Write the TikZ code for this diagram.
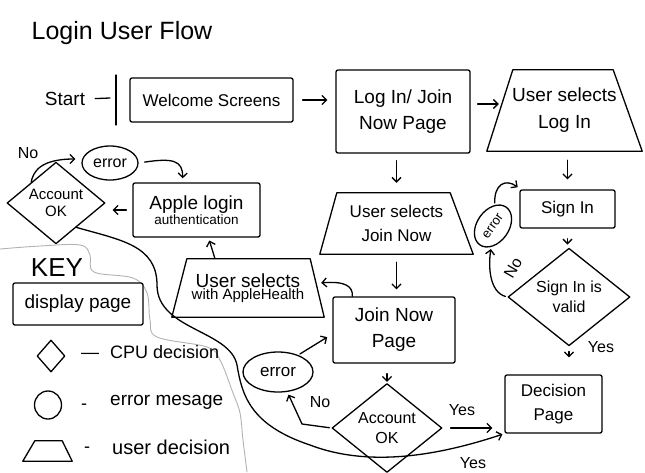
\documentclass[tikz,border=0pt]{standalone}
\usepackage{fontspec}
\setmainfont{Liberation Sans}
\usetikzlibrary{shapes.geometric,arrows.meta,calc}
\newcommand\hsz[2]{\fontsize{#1}{#2}\selectfont}
\newcommand\trapdraw[3]{\draw[ln] (#1.south west) -- ($(#1.north west)+(#2,0)$) -- ($(#1.north east)+(-#3,0)$) -- (#1.south east) -- cycle;}
\begin{document}
\begin{tikzpicture}[x=1pt,y=-1pt, line join=round, line cap=round,
 every node/.style={inner sep=0pt, align=center},
 ln/.style={line width=1.3pt},
 box/.style={draw, ln, rounded corners=2pt},
 dia/.style={draw, ln, diamond},
 err/.style={draw, ln, ellipse},
 arr/.style={ln, -{Straight Barb[length=4.5pt,width=9pt]}, shorten <=4pt, shorten >=4pt},
 lbl/.style={font=\hsz{16}{18}}]
\useasboundingbox (0,0) rectangle (645,472);

% title
\node[font=\hsz{25}{30}] (title) at (122,33) {Login User Flow};

% start
\node[font=\hsz{19}{22}] (start) at (65,99) {Start};
\coordinate (bar) at (110,98);
\coordinate (barTop) at (116,75);
\coordinate (barBot) at (116,125);
\draw[ln, shorten <=10pt] (start.east) -- (bar);
\draw[ln] (barTop) -- (barBot);

% top row
\node[box, minimum width=163pt, minimum height=44pt, font=\hsz{17}{20}] (welcome) at (211.5,100) {Welcome Screens};
\node[box, minimum width=134pt, minimum height=83pt, font=\hsz{19}{26}] (logjoin) at (403,111.5) {Log In/ Join\\Now Page};
\node[minimum width=155pt, minimum height=81pt, font=\hsz{19}{27}] (sellogin) at (564.5,110.5) {User selects\\Log In};
\trapdraw{sellogin}{26}{29}
\draw[arr, shorten <=9pt, shorten >=8pt] (welcome.east) -- (logjoin.west |- welcome.east);
\draw[arr, shorten <=7pt, shorten >=3pt] ($(logjoin.east)+(0,-7.5)$) -- ($(sellogin.west)+(15,-6.5)$);

% middle column
\node[minimum width=153pt, minimum height=61pt, font=\hsz{17}{24}] (seljoin) at (396.5,223.5) {User selects\\Join Now};
\trapdraw{seljoin}{17}{23}
\draw[arr, shorten <=7pt, shorten >=10pt] (logjoin.south -| seljoin.north) -- (seljoin.north);
\node[box, minimum width=122pt, minimum height=66pt, font=\hsz{19}{26}] (joinpage) at (394,330) {Join Now\\Page};
\draw[arr, shorten <=8pt, shorten >=7pt] (seljoin.south) -- (seljoin.south |- joinpage.north);
\node[dia, minimum width=110pt, minimum height=70pt, font=\hsz{16}{20}] (acc2) at (387,428) {Account\\OK};
\draw[arr, shorten <=10pt, shorten >=1pt] (acc2.north |- joinpage.south) -- (acc2.north);
\node[box, minimum width=97pt, minimum height=58pt, font=\hsz{17}{24}] (decision) at (553.5,404) {Decision\\Page};
\draw[arr, shorten <=8pt, shorten >=12pt] (acc2.east) -- (acc2.east -| decision.west);
\node[lbl] (yes2) at (462,410) {Yes};

\node[err, minimum width=70pt, minimum height=40pt, font=\hsz{17}{20}] (err2) at (278,372) {error};
\draw[arr, shorten <=2pt, shorten >=6pt] (err2.40) -- ($(joinpage.west)+(0,4)$);
\coordinate (nob) at (302,424);
\draw[arr, shorten <=2pt, shorten >=3pt] (acc2.west) -- (nob) -- (err2.-65);
\node[lbl] (no2) at (320,402) {No};

% right column
\node[box, minimum width=95pt, minimum height=38pt, font=\hsz{17}{20}] (signin) at (567.5,209) {Sign In};
\draw[arr, shorten <=9pt, shorten >=10pt] (signin.north |- sellogin.south) -- (signin.north);
\node[dia, minimum width=122pt, minimum height=75pt, font=\hsz{16}{20}] (valid) at (569,297) {Sign In is\\valid};
\draw[arr, shorten <=10pt, shorten >=3pt] (signin.south) -- (signin.south |- valid.north);
\node[err, rotate=55, minimum width=46pt, minimum height=32pt, font=\hsz{13}{15}] (err3) at (493,226) {error};
\draw[arr, shorten <=2pt, shorten >=2pt] (err3.30) .. controls (494,185) and (505,178) .. ($(signin.north west)+(0,-1)$);
\draw[arr, shorten <=2pt, shorten >=2pt] (valid.west) .. controls (490,292) and (488,268) .. (err3.-150);
\node[lbl, rotate=60] (no3) at (513,268) {No};
\draw[arr, shorten <=5pt, shorten >=17pt] (valid.south) -- (valid.south |- decision.north);
\node[lbl] (yes3) at (601,347) {Yes};

% left column
\node[box, minimum width=127pt, minimum height=54pt] (apple) at (196.5,210) {{\hsz{19}{22}Apple login}\\{\hsz{13.5}{16}authentication}};
\node[minimum width=152pt, minimum height=58pt] (applesel) at (248,288) {{\hsz{19}{22}User selects}\\{\hsz{15}{18}with AppleHealth}};
\trapdraw{applesel}{15}{14}
\draw[arr, shorten <=1pt, shorten >=3pt] ($(applesel.north)+(-33,0)$) -- ($(apple.south)+(12,0)$);
\draw[arr, shorten <=0pt, shorten >=2pt] ($(joinpage.north west)+(20,0)$) .. controls (353,286) and (345,281) .. ($(applesel.east)+(-5,-5)$);

\node[err, minimum width=56pt, minimum height=34pt, font=\hsz{16}{18}] (err1) at (110,163) {error};
\node[dia, minimum width=98pt, minimum height=54pt, font=\hsz{15}{17}] (acc1) at (56,203) {Account\\OK};
\draw[arr, shorten <=0pt, shorten >=6pt] (acc1.north west) .. controls (33,172) and (40,159) .. ($(err1.west)+(0,-4)$);
\node[lbl] (no1) at (28,153) {No};
\draw[arr, shorten <=6pt, shorten >=4pt] (err1.east) .. controls (172,158) and (183,160) .. ($(apple.north)+(-14,0)$);
\draw[arr, shorten <=6pt, shorten >=7pt] (apple.west) -- (apple.west -| acc1.east);

% long yes path
\draw[arr, shorten <=0pt, shorten >=2pt] (acc1.-50) .. controls (120,240) and (157,245) .. (157,285) .. controls (157,330) and (230,330) .. (237,365) .. controls (242,395) and (250,425) .. (310,445) .. controls (370,468) and (440,455) .. (decision.south west);
\node[lbl] (yes1) at (473,463) {Yes};

% key boundary
\draw[gray!60, line width=0.9pt] plot[smooth, tension=0.6] coordinates {(0,249) (40,246) (80,245) (90,255) (94,272) (133,278) (147,293) (150,320) (157,337) (207,347) (220,360) (233,393) (240,413) (243,440) (247,472)};

% key
\node[font=\hsz{26}{30}] (keyt) at (57,268) {KEY};
\node[box, minimum width=130pt, minimum height=42pt, font=\hsz{19}{22}] (keypage) at (78,304) {display page};
\node[dia, minimum width=28pt, minimum height=32pt] (keydia) at (51,356) {};
\node[font=\hsz{18}{20}] (keydash1) at (90,356) {—};
\node[font=\hsz{18}{20}, anchor=west] (keycpu) at (110,352) {CPU decision};
\node[err, minimum width=27pt, minimum height=28pt] (keyerr) at (48,405) {};
\node[font=\hsz{18}{20}] (keydash2) at (84,407) {-};
\node[font=\hsz{19}{22}, anchor=west] (keyerrt) at (110,402) {error mesage};
\node[minimum width=49pt, minimum height=20pt] (keytrap) at (47.5,451) {};
\trapdraw{keytrap}{12}{10}
\node[font=\hsz{18}{20}] (keydash3) at (87,450) {-};
\node[font=\hsz{20}{22}, anchor=west] (keyuser) at (112,447) {user decision};
\end{tikzpicture}
\end{document}
